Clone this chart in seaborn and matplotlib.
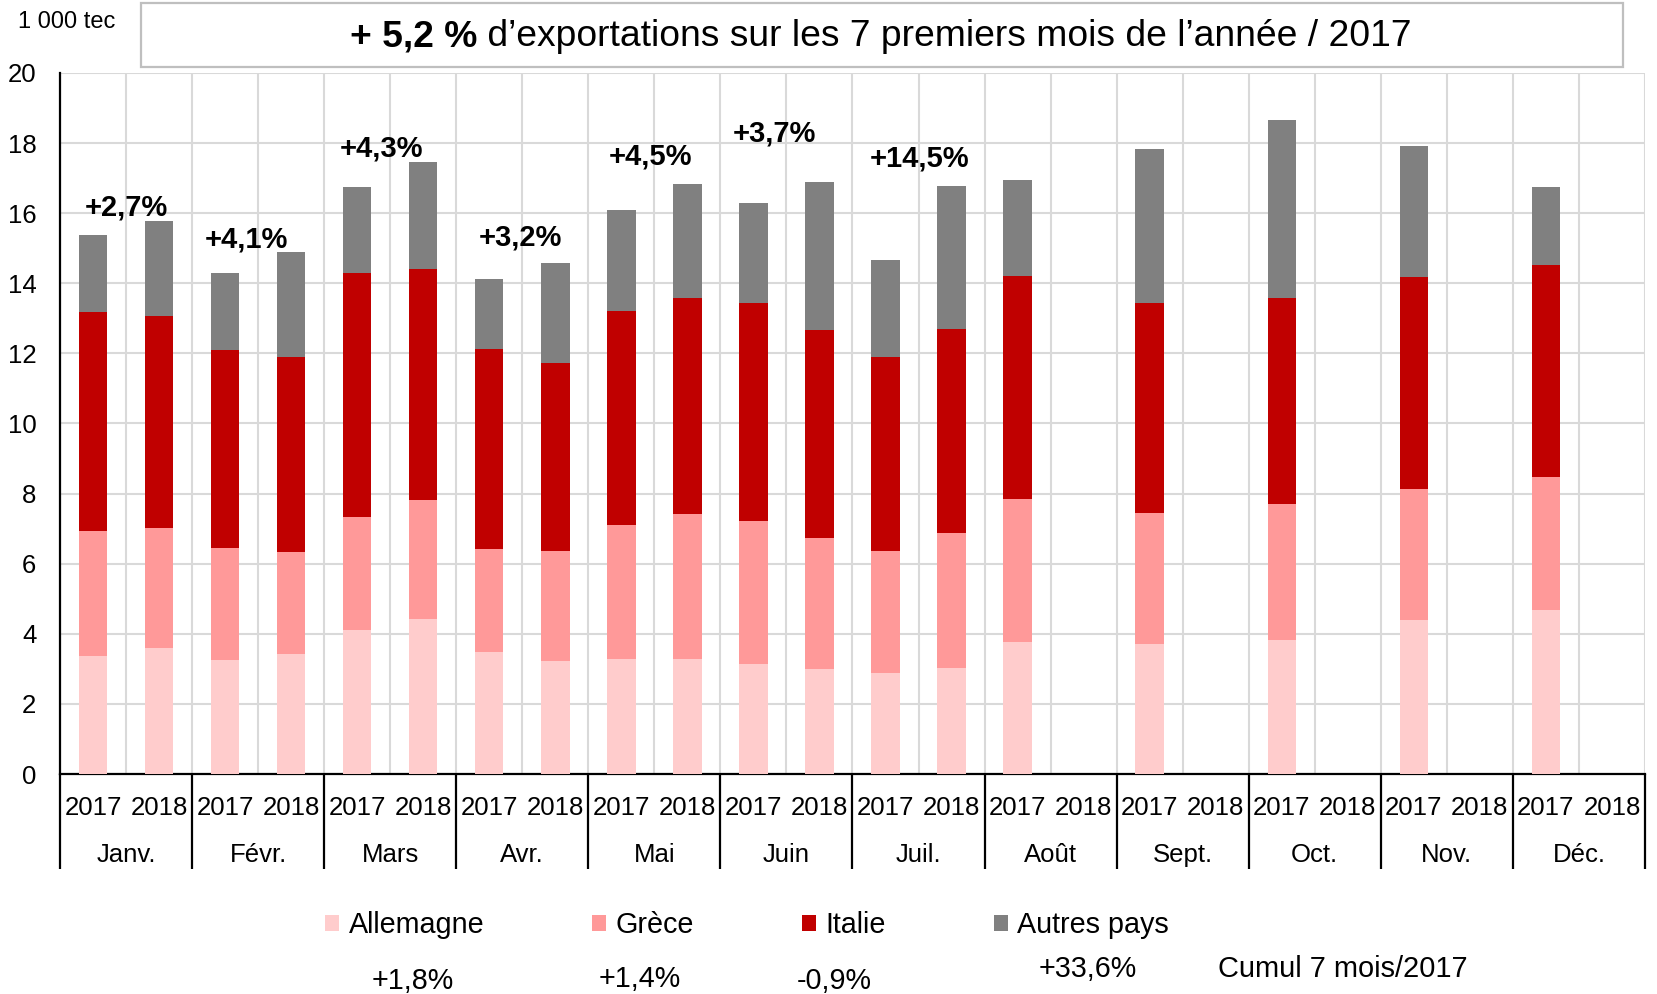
import numpy as np
import pandas as pd
import matplotlib
matplotlib.use("Agg")
import matplotlib.pyplot as plt
from matplotlib.patches import Rectangle, Patch
import seaborn as sns

# ---------------- data ----------------
months = ["Janv.", "Févr.", "Mars", "Avr.", "Mai", "Juin", "Juil.",
          "Août", "Sept.", "Oct.", "Nov.", "Déc."]
years = ["2017", "2018"]
countries = ["Allemagne", "Grèce", "Italie", "Autres pays"]

allemagne_2017 = [3.37, 3.26, 4.12, 3.48, 3.28, 3.13, 2.88, 3.76, 3.71, 3.82, 4.38, 4.68]
grece_2017     = [3.56, 3.18, 3.22, 2.93, 3.82, 4.09, 3.49, 4.09, 3.74, 3.87, 3.75, 3.80]
italie_2017    = [6.26, 5.67, 6.95, 5.72, 6.12, 6.21, 5.52, 6.35, 5.98, 5.90, 6.04, 6.03]
autres_2017    = [2.18, 2.18, 2.46, 1.99, 2.86, 2.86, 2.77, 2.76, 4.40, 5.07, 3.74, 2.25]

allemagne_2018 = [3.60, 3.42, 4.42, 3.21, 3.29, 2.99, 3.03]
grece_2018     = [3.42, 2.91, 3.40, 3.16, 4.14, 3.75, 3.84]
italie_2018    = [6.06, 5.58, 6.59, 5.37, 6.15, 5.94, 5.84]
autres_2018    = [2.71, 2.97, 3.06, 2.83, 3.24, 4.22, 4.07]

month_growth = ["+2,7%", "+4,1%", "+4,3%", "+3,2%", "+4,5%", "+3,7%", "+14,5%"]
country_growth = ["+1,8%", "+1,4%", "-0,9%", "+33,6%"]
cumul_label = "Cumul 7 mois/2017"
title_bold = "+ 5,2 %"
title_rest = " d’exportations sur les 7 premiers mois de l’année / 2017"
unit_label = "1 000 tec"

colors = {"Allemagne": "#FFCCCC", "Grèce": "#FF9999",
          "Italie": "#C00000", "Autres pays": "#808080"}

# layout-only values for the growth labels (y in data units, x offset in slots)
growth_label_y = [16.15, 15.24, 17.84, 15.30, 17.63, 18.26, 17.56]
growth_label_dx = [0.0, -0.18, -0.13, -0.03, -0.06, -0.18, 0.02]

# ---------------- build table ----------------
series = {
    "2017": [allemagne_2017, grece_2017, italie_2017, autres_2017],
    "2018": [allemagne_2018, grece_2018, italie_2018, autres_2018],
}
rows = []
for y in years:
    vals = series[y]
    for i in range(len(vals[0])):
        cum = 0.0
        for c, v in zip(countries, vals):
            cum += v[i]
            rows.append({"slot": f"{months[i]} {y}", "country": c, "top": cum})
df = pd.DataFrame(rows)
order = [f"{m} {y}" for m in months for y in years]

# ---------------- figure ----------------
sns.set_theme(style="white")
plt.rcParams["font.family"] = ["Liberation Sans", "DejaVu Sans"]
plt.rcParams["text.color"] = "black"
plt.rcParams["xtick.color"] = "black"
plt.rcParams["ytick.color"] = "black"
plt.rcParams["xtick.labelcolor"] = "black"
plt.rcParams["ytick.labelcolor"] = "black"

W, H = 1657, 994
fig = plt.figure(figsize=(W / 100, H / 100), dpi=100)
ax_l, ax_r, ax_b, ax_t = 60, 1645, 774, 73
ax = fig.add_axes([ax_l / W, 1 - ax_b / H, (ax_r - ax_l) / W, (ax_b - ax_t) / H])

sns.barplot(data=df, x="slot", y="top", hue="country", order=order,
            hue_order=countries[::-1], palette=colors, dodge=False,
            saturation=1, width=0.43, linewidth=0, errorbar=None,
            legend=False, ax=ax, zorder=3)

ax.set_xlim(-0.5, len(order) - 0.5)
ax.set_ylim(0, 20)
ax.set_yticks(np.arange(0, 21, 2))
ax.set_yticklabels([str(v) for v in range(0, 21, 2)], fontsize=18.5, color="black")
ax.set_xticks(np.arange(len(order)))
ax.set_xticklabels([s.split(" ")[1] for s in order], fontsize=18.5, color="black")
ax.set_xticks(np.arange(-0.5, len(order), 1), minor=True)
ax.tick_params(axis="both", which="both", length=0)
ax.tick_params(axis="x", which="major", pad=16)
ax.tick_params(axis="y", which="major", pad=17)
ax.set_xlabel("")
ax.set_ylabel("")

ax.set_axisbelow(True)
ax.yaxis.grid(True, color="#D9D9D9", linewidth=1.5)
ax.xaxis.grid(True, which="minor", color="#D9D9D9", linewidth=1.5)
ax.xaxis.grid(False, which="major")
for s in ["top", "right"]:
    ax.spines[s].set_visible(False)
for s in ["left", "bottom"]:
    ax.spines[s].set_color("black")
    ax.spines[s].set_linewidth(1.6)

# month labels and separators below axis
axh = ax_b - ax_t
trans = ax.get_xaxis_transform()
for i, m in enumerate(months):
    ax.text(2 * i + 0.5, -(855 - ax_b) / axh, m, transform=trans,
            ha="center", va="center", fontsize=18.5, color="black")
for k in range(len(months) + 1):
    ax.plot([2 * k - 0.5, 2 * k - 0.5], [0, -(869 - ax_b) / axh],
            transform=trans, color="black", linewidth=1.6, clip_on=False,
            solid_capstyle="butt")

# growth labels above month pairs
for i, g in enumerate(month_growth):
    ax.text(2 * i + 0.5 + growth_label_dx[i], growth_label_y[i], g,
            ha="center", va="center", fontsize=21, fontweight="bold",
            color="black", zorder=5)

# title box
bx0, bx1, by0, by1 = 141, 1623, 3, 67
fig.patches.append(Rectangle((bx0 / W, 1 - by1 / H), (bx1 - bx0) / W, (by1 - by0) / H,
                             transform=fig.transFigure, facecolor="white",
                             edgecolor="#BFBFBF", linewidth=1.6))
t_fs = 26.8
tb = fig.text(0, 0, title_bold, fontsize=t_fs, fontweight="bold", color="black")
tr = fig.text(0, 0, title_rest, fontsize=t_fs, color="black")
fig.canvas.draw()
r = fig.canvas.get_renderer()
wb = tb.get_window_extent(r).width
wr = tr.get_window_extent(r).width
cx, base_y = 881, 46
x0 = cx - (wb + wr) / 2
tb.set_position((x0 / W, 1 - base_y / H)); tb.set_va("baseline")
tr.set_position(((x0 + wb) / W, 1 - base_y / H)); tr.set_va("baseline")

fig.text(67 / W, 1 - 22 / H, unit_label, fontsize=17, ha="center", va="center")

# legend
handles = [Patch(facecolor=colors[c], edgecolor="none", label=c) for c in countries]
fig.legend(handles=handles, loc="center left", bbox_to_anchor=(325 / W, 1 - 925 / H),
           ncol=4, frameon=False, fontsize=20.7, handlelength=0.5, handleheight=0.5,
           handletextpad=0.33, columnspacing=3.74, borderpad=0, borderaxespad=0)

# growth per country
pos = [(413, 981), (640, 979), (834, 981), (1088, 969)]
for (px, py), g in zip(pos, country_growth):
    fig.text(px / W, 1 - py / H, g, fontsize=20.7, ha="center", va="center")
fig.text(1218 / W, 1 - 969 / H, cumul_label, fontsize=20.9, ha="left", va="center")

fig.savefig("out.png", dpi=100)
